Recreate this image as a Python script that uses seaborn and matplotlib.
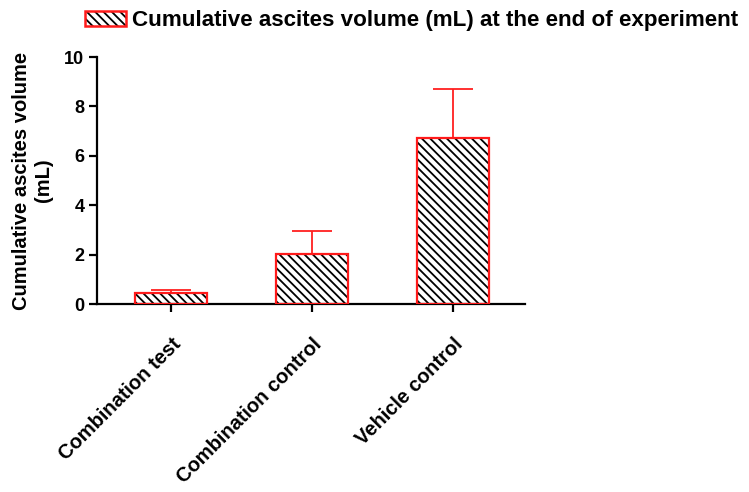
import matplotlib
matplotlib.use("Agg")
import matplotlib.pyplot as plt
import matplotlib.patches as mpatches
from matplotlib.legend_handler import HandlerTuple
import seaborn as sns
import pandas as pd

groups = ["Combination test", "Combination control", "Vehicle control"]
volume_mean = [0.46, 2.01, 6.71]
volume_err = [0.11, 0.95, 1.98]
y_ticks = [0, 2, 4, 6, 8, 10]
legend_label = "Cumulative ascites volume (mL) at the end of experiment"
y_label = "Cumulative ascites volume\n(mL)"

sns.set_theme(style="ticks")
plt.rcParams["font.family"] = ["Liberation Sans", "DejaVu Sans"]
plt.rcParams["font.weight"] = "bold"
plt.rcParams["text.color"] = "black"
plt.rcParams["hatch.linewidth"] = 1.3

HATCH = "\\" * 4
RED = "#ff1a1a"

df = pd.DataFrame({"group": groups, "volume": volume_mean})

fig = plt.figure(figsize=(7.49, 4.92), dpi=100)
ax = fig.add_axes([0.1295, 0.382, 0.5715, 0.502])

sns.barplot(data=df, x="group", y="volume", order=groups, width=0.51,
            color="white", edgecolor="black", linewidth=0, ax=ax, errorbar=None)

# black hatching inside, red outline drawn on top of each bar
for p in ax.patches:
    p.set_hatch(HATCH)
    p.set_facecolor("white")
    p.set_edgecolor("black")
    p.set_linewidth(0)
    ax.add_patch(mpatches.Rectangle(p.get_xy(), p.get_width(), p.get_height(),
                                    fill=False, edgecolor=RED, linewidth=1.6,
                                    zorder=3))

ax.errorbar(range(len(groups)), volume_mean,
            yerr=[[0] * len(groups), volume_err],
            fmt="none", ecolor="#ff2020", elinewidth=1.3, capsize=14.2,
            capthick=1.3, zorder=2)

ax.set_xlim(-0.525, 2.51)
ax.set_ylim(0, 10)
ax.set_yticks(y_ticks)
ax.set_yticklabels([str(t) for t in y_ticks], fontsize=13, fontweight="bold",
                   color="black")
ax.set_xticks(range(len(groups)))
ax.set_xticklabels(groups, rotation=45, ha="right", rotation_mode="anchor",
                   fontsize=14.5, fontweight="bold", color="black")
ax.set_xlabel("")
ax.set_ylabel(y_label, fontsize=14.5, fontweight="bold", labelpad=8,
              linespacing=1.2, color="black")

for s in ["top", "right"]:
    ax.spines[s].set_visible(False)
for s in ["left", "bottom"]:
    ax.spines[s].set_linewidth(1.6)
    ax.spines[s].set_color("black")
ax.tick_params(axis="both", direction="out", length=6, width=1.6, colors="black")
ax.tick_params(axis="x", pad=16)
ax.tick_params(axis="y", pad=3)

# legend key: hatched fill overlaid with a red outline
hatch_patch = mpatches.Patch(facecolor="white", edgecolor="black", hatch=HATCH,
                             linewidth=0)
outline_patch = mpatches.Patch(fill=False, edgecolor=RED, linewidth=1.8)
fig.legend([(hatch_patch, outline_patch)], [legend_label], loc="upper left",
           bbox_to_anchor=(0.0865, 1.02), frameon=False,
           prop={"size": 16.1, "weight": "bold"},
           handler_map={tuple: HandlerTuple(ndivide=1, pad=0)},
           handlelength=1.85, handleheight=0.68, handletextpad=0.25)

fig.savefig("out.png", dpi=100)
